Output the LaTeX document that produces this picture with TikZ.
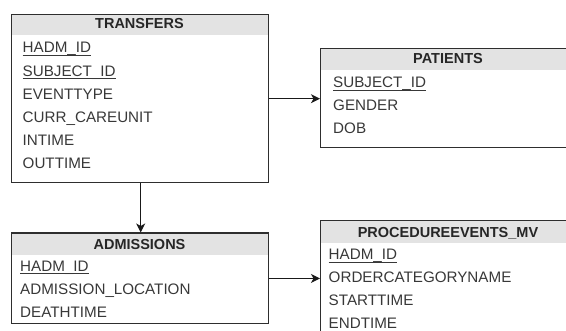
\documentclass[tikz,border=0pt]{standalone}
\usepackage{fontspec}
\setmainfont{Liberation Sans}
\usetikzlibrary{arrows.meta}
\newcommand\keyul[1]{\setbox0\hbox{#1}\rlap{\rule[-2.6pt]{\wd0}{1pt}}\box0}
\begin{document}
\begin{tikzpicture}[x=1pt,y=-1pt,
  tbl/.style={draw=black!82, line width=1.4pt, inner sep=0pt, anchor=north west},
  hdr/.style={fill=black!11, inner sep=0pt, anchor=north west},
  title/.style={font=\fontsize{14.5}{16}\selectfont\bfseries, text=black!85, anchor=base, inner sep=0pt},
  row/.style={font=\fontsize{15.2}{17}\selectfont, text=black!78, anchor=base west, inner sep=0pt},
  link/.style={-{Stealth[length=9pt,width=9pt,inset=2.5pt]}, line width=1.1pt, draw=black!90}
]
\useasboundingbox (0,0) rectangle (566,331);
\clip (0,0) rectangle (566,331);

% TRANSFERS
\node[hdr, minimum width=257pt, minimum height=21pt] (transfersH) at (11,14) {};
\node[tbl, minimum width=257pt, minimum height=168pt] (transfers) at (11,14) {};
\node[title] (transfersT) at (139.5,28.5) {TRANSFERS};
\node[row] (t1) at (22.5,53) {\keyul{HADM\_ID}};
\node[row] (t2) at (22.5,76.2) {\keyul{SUBJECT\_ID}};
\node[row] (t3) at (22.5,99.4) {EVENTTYPE};
\node[row] (t4) at (22.5,122.6) {CURR\_CAREUNIT};
\node[row] (t5) at (22.5,145.8) {INTIME};
\node[row] (t6) at (22.5,169) {OUTTIME};

% PATIENTS
\node[hdr, minimum width=256pt, minimum height=22pt] (patientsH) at (320,48) {};
\node[tbl, minimum width=256pt, minimum height=99pt] (patients) at (320,48) {};
\node[title] (patientsT) at (448,64) {PATIENTS};
\node[row] (p1) at (333,88) {\keyul{SUBJECT\_ID}};
\node[row] (p2) at (333,110.7) {GENDER};
\node[row] (p3) at (333,133.4) {DOB};

% ADMISSIONS
\node[hdr, minimum width=257pt, minimum height=22.5pt] (admissionsH) at (11,232.5) {};
\node[tbl, minimum width=257pt, minimum height=90.5pt] (admissions) at (11,232.5) {};
\node[title] (admissionsT) at (139.5,249.5) {ADMISSIONS};
\node[row] (a1) at (20,271.6) {\keyul{HADM\_ID}};
\node[row] (a2) at (20,294.6) {ADMISSION\_LOCATION};
\node[row] (a3) at (20,317.6) {DEATHTIME};

% PROCEDUREEVENTS_MV
\node[hdr, minimum width=256pt, minimum height=23pt] (procH) at (320,220) {};
\node[tbl, minimum width=256pt, minimum height=130pt] (proc) at (320,220) {};
\node[title] (procT) at (448,237.3) {PROCEDUREEVENTS\_MV};
\node[row] (r1) at (328.5,260) {\keyul{HADM\_ID}};
\node[row] (r2) at (328.5,283) {ORDERCATEGORYNAME};
\node[row] (r3) at (328.5,305.8) {STARTTIME};
\node[row] (r4) at (328.5,328.5) {ENDTIME};

% connectors
\draw[link] (transfers.east) -- (transfers.east -| patients.west);
\draw[link] ([xshift=0.5pt]transfers.south) -- ([xshift=0.5pt]transfers.south |- admissions.north);
\draw[link] (admissions.east) -- (admissions.east -| proc.west);
\end{tikzpicture}
\end{document}
